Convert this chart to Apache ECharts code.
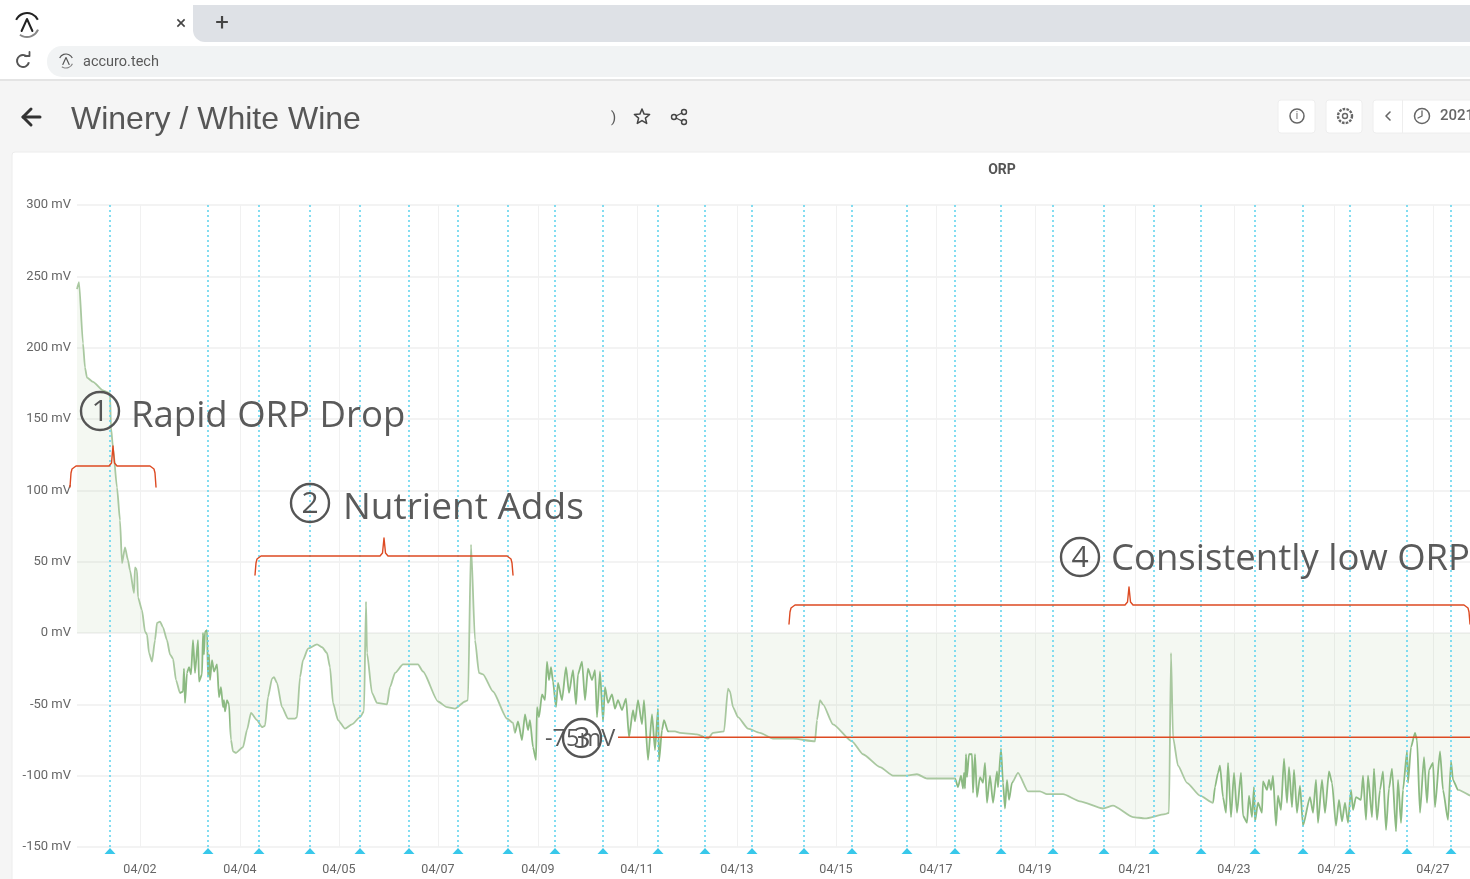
<!DOCTYPE html>
<html>
<head>
<meta charset="utf-8">
<title>Winery / White Wine</title>
<script src="https://cdn.jsdelivr.net/npm/echarts@6/dist/echarts.min.js"></script>
<style>
  html, body { margin: 0; padding: 0; background: #f5f5f5; overflow: hidden; }
  #chart { width: 1470px; height: 879px; }
</style>
</head>
<body>
<div id="chart"></div>
<script>
const rapidDrop = [[0,241],[2,246],[6,203],[8,186],[10,179],[16,176],[26,170],[33,168],[34,144],[36,130],[40,102],[43,79],[45,49],[48,60],[51,51],[53,44],[57,28],[58,46],[60,44],[61,25],[65,16],[68,1],[70,-1],[72,-14],[75,-20],[78,-5],[80,7],[83,8],[86,4],[90,-5],[93,-15],[96,-18],[99,-33],[103,-42],[106,-41],[107,-25],[108,-49],[110,-28],[112,-24],[114,-29],[116,-5],[118,-28],[121,-5],[122,-34],[125,-29],[126,0],[127,-15],[128,1],[130,2],[131,-31],[132,-15],[133,-33],[135,-19],[137,-27],[140,-22],[142,-45],[144,-38],[146,-52],[147,-47],[148,-55],[150,-47],[152,-50],[154,-75],[156,-83],[159,-84],[166,-80],[170,-68],[174,-56],[180,-61],[185,-66],[188,-65]]
const nutrientAdds = [[191,-45],[195,-32],[197,-31],[200,-35],[205,-52],[211,-60],[218,-60],[220,-59],[223,-31],[226,-19],[231,-11],[240,-8],[245,-10],[250,-14],[253,-24],[256,-49],[261,-61],[268,-67],[275,-64],[283,-59],[287,-55],[289,22],[290,-14],[295,-42],[300,-49],[310,-50],[313,-38],[318,-28],[326,-22],[341,-22],[346,-27],[361,-48],[370,-52],[378,-53],[388,-48],[391,-47],[394,62],[398,-5],[402,-28],[406,-29],[416,-41],[430,-60],[436,-63]]
const noisyMiddle = [[438,-70],[441,-62],[445,-75],[448,-57],[451,-68],[453,-61],[456,-80],[459,-89],[460,-52],[462,-59],[465,-43],[468,-47],[470,-20],[472,-33],[474,-24],[476,-34],[479,-52],[481,-35],[485,-47],[489,-24],[492,-42],[496,-26],[499,-50],[501,-29],[505,-20],[508,-47],[511,-25],[515,-33],[518,-26],[520,-59],[523,-27],[526,-62],[528,-38],[531,-49],[535,-43],[538,-53],[541,-47],[545,-54],[549,-46],[552,-73],[556,-54],[558,-62],[561,-47],[565,-64],[567,-47],[571,-89],[575,-57],[578,-82],[581,-53],[582,-90],[585,-68],[587,-61],[591,-69],[598,-69],[603,-70]]
const slowDecline = [[620,-71],[631,-74],[636,-70],[647,-69],[651,-39],[653,-41],[656,-52],[661,-59],[671,-67],[683,-70],[696,-74],[716,-74],[738,-76],[740,-61],[743,-47],[746,-50],[756,-64],[775,-76],[786,-85],[803,-94],[816,-100],[830,-100],[840,-99],[850,-102],[863,-102],[878,-102],[881,-108],[884,-100],[886,-109],[887,-98],[888,-109],[889,-85],[890,-101],[892,-85],[895,-85],[896,-112],[898,-85],[900,-115],[903,-101],[906,-105],[908,-91],[910,-119],[913,-100],[916,-119],[920,-97],[921,-108],[924,-81],[926,-105],[928,-123],[930,-103],[932,-117],[935,-105],[941,-98],[951,-111],[963,-111],[970,-113],[986,-113],[1003,-118],[1026,-123],[1036,-121],[1056,-129],[1068,-130],[1088,-127],[1092,-126],[1094,-14],[1096,-73],[1101,-93],[1110,-105],[1123,-114],[1136,-119]]
const noisyEnd = [[1138,-108],[1141,-98],[1143,-93],[1146,-115],[1149,-126],[1151,-91],[1154,-129],[1157,-98],[1160,-126],[1164,-98],[1166,-128],[1170,-133],[1172,-114],[1175,-129],[1177,-108],[1178,-132],[1181,-119],[1185,-126],[1186,-104],[1190,-110],[1192,-103],[1194,-110],[1196,-100],[1199,-135],[1201,-114],[1204,-124],[1207,-88],[1210,-119],[1212,-94],[1215,-122],[1217,-96],[1220,-126],[1223,-107],[1226,-135],[1233,-115],[1236,-126],[1239,-103],[1241,-133],[1245,-103],[1248,-126],[1252,-97],[1255,-105],[1259,-135],[1262,-117],[1265,-132],[1268,-119],[1271,-133],[1274,-110],[1276,-124],[1279,-115],[1284,-117],[1286,-100],[1289,-131],[1291,-100],[1295,-129],[1297,-95],[1300,-131],[1303,-110],[1306,-97],[1309,-138],[1312,-109],[1315,-95],[1319,-139],[1321,-103],[1324,-133],[1326,-110],[1330,-83],[1331,-105],[1334,-80],[1338,-70],[1340,-75],[1343,-126],[1347,-87],[1350,-119],[1352,-96],[1356,-91],[1358,-122],[1363,-83],[1366,-110],[1371,-131],[1374,-90],[1376,-103],[1381,-110],[1393,-114]]

const tickSamples = [63, 163, 262, 361, 461, 560, 660, 759, 859, 958, 1058, 1157, 1257, 1356]
const tickLabels = ['04/02', '04/04', '04/05', '04/07', '04/09', '04/11', '04/13', '04/15', '04/17', '04/19', '04/21', '04/23', '04/25', '04/27']
const eventSamples = [33, 131, 182, 233, 283, 332, 381, 431, 478, 526, 581, 628, 675, 727, 775, 830, 878, 924, 976, 1027, 1077, 1124, 1178, 1226, 1273, 1330, 1374]
const lowOrpLine = [[541, -73], [1393, -73]]
const noisyRanges = [[103, 153], [438, 592], [878, 936], [1136, 1381]]

const orpSeries = [...rapidDrop, ...nutrientAdds, ...noisyMiddle, ...slowDecline, ...noisyEnd]

const grey = '#5a5a5a'
const red = '#dd4a22'
const uiFont = 'Roboto, sans-serif'
const noteFont = '"Open Sans", sans-serif'

function label(x, y, text, fontSize, fill, extra) {
  return {
    type: 'text',
    x,
    y,
    z: 100,
    silent: true,
    style: Object.assign({ text, fontSize, fill, fontFamily: uiFont, align: 'left', verticalAlign: 'middle' }, extra || {})
  }
}

function box(x, y, width, height, fill, r, stroke, z) {
  return {
    type: 'rect',
    z: z === undefined ? 50 : z,
    silent: true,
    shape: { x, y, width, height, r: r || 0 },
    style: { fill, stroke: stroke || null, lineWidth: 1 }
  }
}

function ring(cx, cy, r, color, lineWidth, dash) {
  return {
    type: 'circle',
    z: 100,
    silent: true,
    shape: { cx, cy, r },
    style: { fill: null, stroke: color, lineWidth, lineDash: dash || null }
  }
}

function stroke(points, color, lineWidth, z) {
  return {
    type: 'polyline',
    z: z || 100,
    silent: true,
    shape: { points },
    style: { fill: null, stroke: color, lineWidth, lineJoin: 'round', lineCap: 'round' }
  }
}

function brace(left, right, middle, top, low, peak) {
  return stroke([
    [left, low], [left + 1, top + 7], [left + 2, top + 3], [left + 6, top],
    [middle - 4, top], [middle - 1.5, top - 3], [middle, peak], [middle + 1.5, top - 3], [middle + 4, top],
    [right - 6, top], [right - 2, top + 3], [right - 1, top + 7], [right, low]
  ], red, 1.4)
}

function note(cx, cy, digit) {
  return [
    ring(cx, cy, 19, '#555555', 2.4),
    label(cx, cy + 1, digit, 30, '#555555', { align: 'center', fontFamily: noteFont })
  ]
}

function logo(cx, cy, r, color) {
  return [
    { type: 'arc', z: 100, silent: true, shape: { cx, cy, r, startAngle: -2.7, endAngle: -0.45 }, style: { fill: null, stroke: color, lineWidth: r / 6 } },
    { type: 'arc', z: 100, silent: true, shape: { cx, cy, r, startAngle: 0.4, endAngle: 2.2 }, style: { fill: null, stroke: '#888888', lineWidth: r / 6 } },
    stroke([[cx - r * 0.45, cy + r * 0.5], [cx, cy - r * 0.5], [cx + r * 0.45, cy + r * 0.5]], color, r / 6)
  ]
}

function starPoints(cx, cy, outer, inner) {
  const pts = []
  for (let i = 0; i < 10; i++) {
    const radius = i % 2 ? inner : outer
    const angle = -Math.PI / 2 + i * Math.PI / 5
    pts.push([cx + radius * Math.cos(angle), cy + radius * Math.sin(angle)])
  }
  pts.push(pts[0])
  return pts
}

const pageChrome = [
  box(0, 0, 1470, 80, '#ffffff', 0, null, -2),
  box(193, 5, 1300, 37, '#dee1e6', [0, 0, 0, 12], null, -1),
  box(47, 46, 1450, 31, '#f1f3f4', 15, null, -1),
  box(0, 79, 1470, 2, '#e4e4e4', 0, null, -1),
  box(12, 152, 1470, 740, '#ffffff', 3, '#ececec', -1),
  ...logo(27, 25, 12, '#222222'),
  label(181, 24, '×', 19, '#444444', { align: 'center' }),
  label(222, 24, '+', 24, '#444444', { align: 'center' }),
  { type: 'arc', z: 100, silent: true, shape: { cx: 23, cy: 61, r: 6, startAngle: 0.2, endAngle: 5.4 }, style: { fill: null, stroke: '#555555', lineWidth: 2 } },
  stroke([[25, 56], [29.5, 56], [29.5, 52]], '#555555', 1.8),
  ...logo(66, 61, 7, '#555555'),
  label(83, 62, 'accuro.tech', 14.5, grey),
  stroke([[40, 117], [23, 117]], '#333333', 3),
  stroke([[31, 109], [23, 117], [31, 125]], '#333333', 3),
  label(71, 120, 'Winery / White Wine', 32, '#565656', { fontFamily: '"Liberation Sans", sans-serif' }),
  label(611, 118, ')', 15, grey),
  stroke(starPoints(642, 117, 8, 3.6), '#444444', 1.5),
  ring(674, 117, 2.5, '#444444', 1.4),
  ring(684, 112, 2.5, '#444444', 1.4),
  ring(684, 122, 2.5, '#444444', 1.4),
  stroke([[682, 113], [676, 116]], '#444444', 1.3),
  stroke([[682, 121], [676, 118]], '#444444', 1.3),
  box(1278, 100, 37, 33, '#ffffff', 3, '#eeeeee'),
  box(1326, 100, 36, 33, '#ffffff', 3, '#eeeeee'),
  box(1373, 100, 120, 33, '#ffffff', 3, '#eeeeee'),
  ring(1297, 116, 7, '#666666', 1.5),
  label(1297, 116, 'i', 10, '#666666', { align: 'center' }),
  ring(1345, 116, 7, '#666666', 2.4, [2.6, 1.2]),
  ring(1345, 116, 2.5, '#666666', 1.4),
  stroke([[1390, 112], [1386, 116], [1390, 120]], '#666666', 1.6),
  box(1402, 100, 1, 33, '#eeeeee'),
  ring(1422, 116, 7.5, '#666666', 1.5),
  stroke([[1422, 111], [1422, 116], [1418, 118]], '#666666', 1.3),
  label(1440, 116, '2021', 15, '#666666', { fontWeight: 500 })
]

const annotations = [
  ...note(100, 411, '1'),
  label(131, 417, 'Rapid ORP Drop', 36.5, grey, { fontFamily: noteFont }),
  brace(70, 156, 113, 466, 487, 446),
  ...note(310, 503, '2'),
  label(343, 508, 'Nutrient Adds', 37, grey, { fontFamily: noteFont }),
  brace(255, 513, 384, 556, 575, 538),
  label(545, 739, '-75mV', 23.5, grey, { fontFamily: noteFont }),
  ...note(582, 738, '3'),
  ...note(1080, 557, '4'),
  label(1111, 560, 'Consistently low ORP', 36.5, grey, { fontFamily: noteFont }),
  brace(789, 1470, 1129, 605, 624, 587)
]

const chart = echarts.init(document.getElementById('chart'), null, { renderer: 'canvas' })

chart.setOption({
  animation: false,
  backgroundColor: '#f5f5f5',
  title: {
    text: 'ORP',
    left: 997,
    top: 158,
    textAlign: 'center',
    textStyle: { color: '#555555', fontSize: 14, fontWeight: 'bold', fontFamily: uiFont }
  },
  grid: { left: 77, right: 0, top: 205, bottom: 32 },
  visualMap: {
    show: false,
    type: 'piecewise',
    seriesIndex: 0,
    dimension: 0,
    pieces: noisyRanges.map(range => ({ gte: range[0], lte: range[1], color: '#8cba82' })),
    outOfRange: { color: '#a9c8a0' }
  },
  xAxis: {
    type: 'value',
    min: 0,
    max: 1393,
    axisLine: { show: false },
    axisTick: { show: false, customValues: tickSamples },
    axisLabel: {
      customValues: tickSamples,
      formatter: value => tickLabels[tickSamples.indexOf(value)],
      color: '#666666',
      fontSize: 12.5,
      fontFamily: uiFont,
      margin: 16
    },
    splitLine: { show: true, lineStyle: { color: '#f1f1f1', width: 1 } }
  },
  yAxis: {
    type: 'value',
    min: -150,
    max: 300,
    interval: 50,
    axisLine: { show: false },
    axisTick: { show: false },
    axisLabel: {
      formatter: '{value} mV',
      color: '#666666',
      fontSize: 13,
      fontFamily: uiFont,
      margin: 6,
      padding: [4, 0, 0, 0]
    },
    splitLine: { lineStyle: { color: '#efefef', width: 1.5 } }
  },
  graphic: { elements: [...pageChrome, ...annotations] },
  series: [
    {
      name: 'ORP',
      type: 'line',
      data: orpSeries,
      showSymbol: false,
      smooth: 0.2,
      smoothMonotone: 'x',
      lineStyle: { width: 1.8 },
      areaStyle: { color: 'rgba(140, 185, 125, 0.14)' },
      markLine: {
        silent: true,
        symbol: 'none',
        label: { show: false },
        lineStyle: { color: '#64d5ee', type: [2, 3], width: 1.6 },
        data: eventSamples.map(sample => ({ xAxis: sample }))
      }
    },
    {
      name: 'Events',
      type: 'scatter',
      silent: true,
      clip: false,
      symbol: 'triangle',
      symbolSize: [11, 6],
      symbolOffset: [0, 4],
      itemStyle: { color: '#38c8ea', opacity: 1 },
      data: eventSamples.map(sample => [sample, -150])
    },
    {
      name: 'Low ORP level',
      type: 'line',
      data: lowOrpLine,
      showSymbol: false,
      silent: true,
      lineStyle: { color: red, width: 1.5 }
    }
  ]
})
</script>
</body>
</html>
